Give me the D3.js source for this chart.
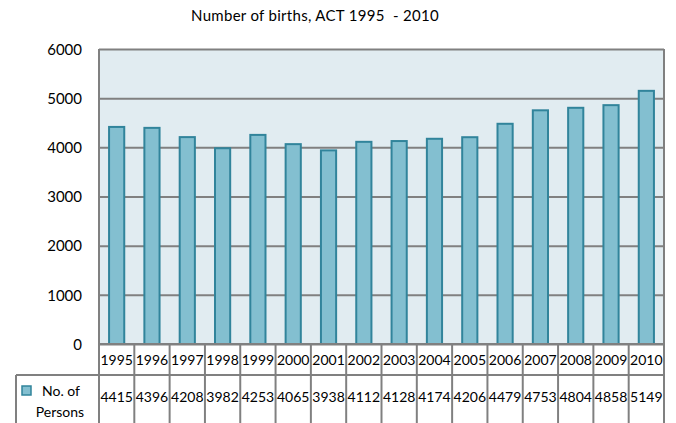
<!DOCTYPE html>
<html>
  <head>
    <title>Number of births, ACT</title>
    <script src="https://cdn.jsdelivr.net/npm/d3@7"></script>
    <style>
      body { margin: 0; background: #fff; }
      text { font-family: Lato, "Open Sans", sans-serif; fill: #000; }
      .title { font-size: 15px; text-anchor: middle; letter-spacing: 0.3px; white-space: pre; }
      .axis .tick text { font-size: 15px; }
      .axis .tick line { stroke: #808080; stroke-width: 2px; }
      .axis .domain { display: none; }
      .cell { font-size: 14px; text-anchor: middle; }
      .legend-text { font-size: 14px; text-anchor: middle; }
      .grid { stroke: #808080; stroke-width: 2px; }
    </style>
  </head>
  <body>
    <svg width="676" height="423"></svg>
    <script>
      const years = ["1995", "1996", "1997", "1998", "1999", "2000", "2001", "2002",
                     "2003", "2004", "2005", "2006", "2007", "2008", "2009", "2010"];
      const persons = [4415, 4396, 4208, 3982, 4253, 4065, 3938, 4112,
                       4128, 4174, 4206, 4479, 4753, 4804, 4858, 5149];
      const yTicks = [0, 1000, 2000, 3000, 4000, 5000, 6000];
      const title = "Number of births, ACT 1995  - 2010";
      const seriesLabel = ["No. of", "Persons"];

      const margin = {top: 49, right: 12, bottom: 79, left: 99};
      const barFill = "#83bfd0";
      const barStroke = "#31849b";
      const plotFill = "#e1ecf1";
      const rowHeight = 31;
      const legendLeft = 16;

      const svg = d3.select("svg");
      const width = +svg.attr("width");
      const height = +svg.attr("height");
      const innerWidth = width - margin.left - margin.right;
      const innerHeight = height - margin.top - margin.bottom;

      const xScale = d3.scaleBand()
        .domain(years)
        .range([0, innerWidth])
        .paddingInner(0.57)
        .paddingOuter(0.285);
      const colScale = d3.scaleBand()
        .domain(years)
        .range([0, innerWidth]);
      const yScale = d3.scaleLinear()
        .domain([0, 6000])
        .range([innerHeight, 0]);

      svg.append("text")
          .attr("class", "title")
          .attr("x", 315)
          .attr("y", 21)
          .text(title);

      const g = svg.append("g")
          .attr("transform", `translate(${margin.left}, ${margin.top})`);

      g.append("rect")
          .attr("width", innerWidth)
          .attr("height", innerHeight)
          .attr("fill", plotFill);

      const yAxis = d3.axisLeft(yScale)
        .tickValues(yTicks)
        .tickSizeInner(-innerWidth)
        .tickSizeOuter(0)
        .tickPadding(17)
        .tickFormat(d3.format("d"));
      const yAxisG = g.append("g")
          .attr("class", "axis")
          .call(yAxis);
      yAxisG.selectAll(".tick text").attr("dy", "0.35em");

      g.append("line")
          .attr("class", "grid")
          .attr("x1", 0).attr("x2", 0)
          .attr("y1", 0).attr("y2", innerHeight);
      g.append("line")
          .attr("class", "grid")
          .attr("x1", innerWidth).attr("x2", innerWidth)
          .attr("y1", 0).attr("y2", innerHeight);

      g.selectAll(".bar")
        .data(persons)
        .enter().append("rect")
          .attr("class", "bar")
          .attr("x", (d, i) => xScale(years[i]))
          .attr("y", d => yScale(d))
          .attr("width", xScale.bandwidth())
          .attr("height", d => innerHeight - yScale(d))
          .attr("fill", barFill)
          .attr("stroke", barStroke)
          .attr("stroke-width", 2);

      // data table below the plot
      const tableG = g.append("g")
          .attr("transform", `translate(0, ${innerHeight})`);

      const colLines = [0].concat(years.map(y => colScale(y) + colScale.bandwidth()));
      tableG.selectAll(".vline")
        .data(colLines)
        .enter().append("line")
          .attr("class", "grid")
          .attr("x1", d => d).attr("x2", d => d)
          .attr("y1", 0).attr("y2", margin.bottom);

      tableG.append("line")
          .attr("class", "grid")
          .attr("x1", 0).attr("x2", innerWidth)
          .attr("y1", 0).attr("y2", 0);
      tableG.append("line")
          .attr("class", "grid")
          .attr("x1", legendLeft - margin.left).attr("x2", innerWidth)
          .attr("y1", rowHeight).attr("y2", rowHeight);
      tableG.append("line")
          .attr("class", "grid")
          .attr("x1", legendLeft - margin.left).attr("x2", legendLeft - margin.left)
          .attr("y1", rowHeight).attr("y2", margin.bottom);

      tableG.selectAll(".year")
        .data(years)
        .enter().append("text")
          .attr("class", "cell")
          .attr("x", d => colScale(d) + colScale.bandwidth() / 2)
          .attr("y", 21)
          .text(d => d);

      tableG.selectAll(".value")
        .data(persons)
        .enter().append("text")
          .attr("class", "cell")
          .attr("x", (d, i) => colScale(years[i]) + colScale.bandwidth() / 2)
          .attr("y", rowHeight + 27)
          .text(d => d);

      const legendG = tableG.append("g")
          .attr("transform", `translate(${legendLeft - margin.left}, ${rowHeight})`);
      legendG.append("rect")
          .attr("x", 6).attr("y", 11)
          .attr("width", 9).attr("height", 9)
          .attr("fill", barFill)
          .attr("stroke", barStroke)
          .attr("stroke-width", 1.5);
      legendG.selectAll(".legend-text")
        .data(seriesLabel)
        .enter().append("text")
          .attr("class", "legend-text")
          .attr("x", (d, i) => i === 0 ? 45 : 44)
          .attr("y", (d, i) => 21 + i * 21)
          .text(d => d);
    </script>
  </body>
</html>
